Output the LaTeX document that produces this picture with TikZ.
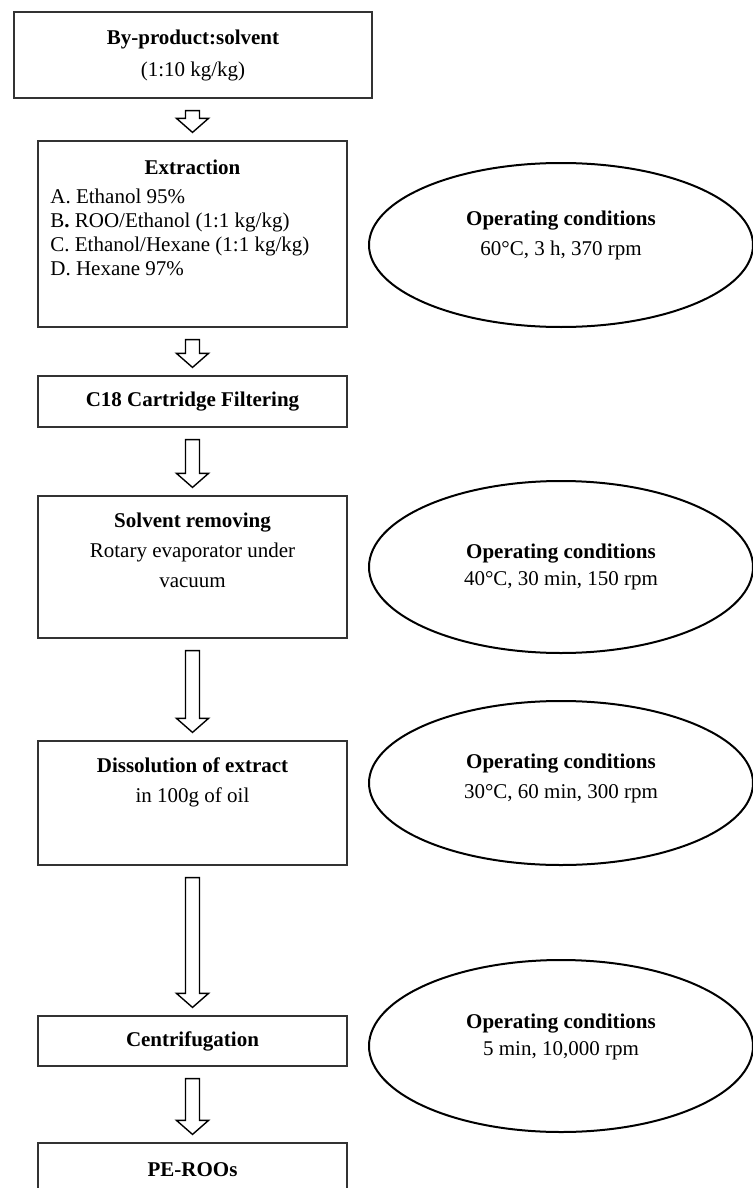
\documentclass[tikz,border=0pt]{standalone}
\usepackage{fontspec}
\setmainfont{Liberation Serif}
\usetikzlibrary{shapes.geometric,calc}
\newcommand{\flowarrow}[2]{%
\draw[hollow]($(#2.north |- #1.south)+(-7,12)$)--($(#2.north)+(-7,-22)$)--($(#2.north)+(-16,-22)$)--($(#2.north)+(0,-8)$)--($(#2.north)+(16,-22)$)--($(#2.north)+(7,-22)$)--($(#2.north |- #1.south)+(7,12)$)--cycle;}
\begin{document}
\begin{tikzpicture}[x=0.5pt,y=-0.5pt,
  box/.style={draw=black!80,line width=.6pt,minimum width=154.5pt,align=center,inner sep=0pt,font=\fontsize{10.5}{15}\selectfont},
  cond/.style={draw,ellipse,line width=1pt,minimum width=192pt,inner sep=0pt},
  lbl/.style={align=center,inner sep=0pt,font=\fontsize{10.5}{15}\selectfont},
  hollow/.style={draw,line width=.7pt,line join=miter}]
\useasboundingbox (0,0) rectangle (753,1188);
% process steps
\node[box,minimum width=179pt,minimum height=43pt,font=\fontsize{10.5}{16}\selectfont](feed)at(193,55){\textbf{By-product:solvent}\\(1:10 kg/kg)};
\node[box,minimum height=93pt](extr)at(192.5,234){};
\node[lbl](extrhd)at(192.5,167){\textbf{Extraction}};
\node[lbl,align=left,anchor=west,font=\fontsize{10.5}{12}\selectfont](extrls)at(50,232){A. Ethanol 95\%\\B\textbf{.} ROO/Ethanol (1:1 kg/kg)\\C. Ethanol/Hexane (1:1 kg/kg)\\D. Hexane 97\%};
\node[box,minimum height=25.5pt](filt)at(192.5,401.5){\textbf{C18 Cartridge Filtering}};
\node[box,minimum height=71pt](remv)at(192.5,567){};
\node[lbl](remvt)at(192.5,550){\textbf{Solvent removing}\\Rotary evaporator under\\vacuum};
\node[box,minimum height=62pt](diss)at(192.5,803){};
\node[lbl](disst)at(192.5,782){\textbf{Dissolution of extract}\\in 100g of oil};
\node[box,minimum height=25pt](cent)at(192.5,1041){\textbf{Centrifugation}};
\node[box,minimum height=27pt](prod)at(192.5,1170){\textbf{PE-ROOs}};
% operating conditions
\node[cond,minimum height=82pt](opc1)at(561,245){};
\node[lbl](opc1t)at(561,235){\textbf{Operating conditions}\\60°C, 3 h, 370 rpm};
\node[cond,minimum height=86pt](opc2)at(561,567){};
\node[lbl,font=\fontsize{10.5}{13.5}\selectfont](opc2t)at(561,566.5){\textbf{Operating conditions}\\40°C, 30 min, 150 rpm};
\node[cond,minimum height=82pt](opc3)at(561,783){};
\node[lbl](opc3t)at(561,778){\textbf{Operating conditions}\\30°C, 60 min, 300 rpm};
\node[cond,minimum height=86pt](opc4)at(561,1046){};
\node[lbl,font=\fontsize{10.5}{13.5}\selectfont](opc4t)at(561,1036.5){\textbf{Operating conditions}\\5 min, 10,000 rpm};
% arrows
\foreach \a/\b in {feed/extr,extr/filt,filt/remv,remv/diss,diss/cent,cent/prod}
  \flowarrow{\a}{\b};
\end{tikzpicture}
\end{document}
